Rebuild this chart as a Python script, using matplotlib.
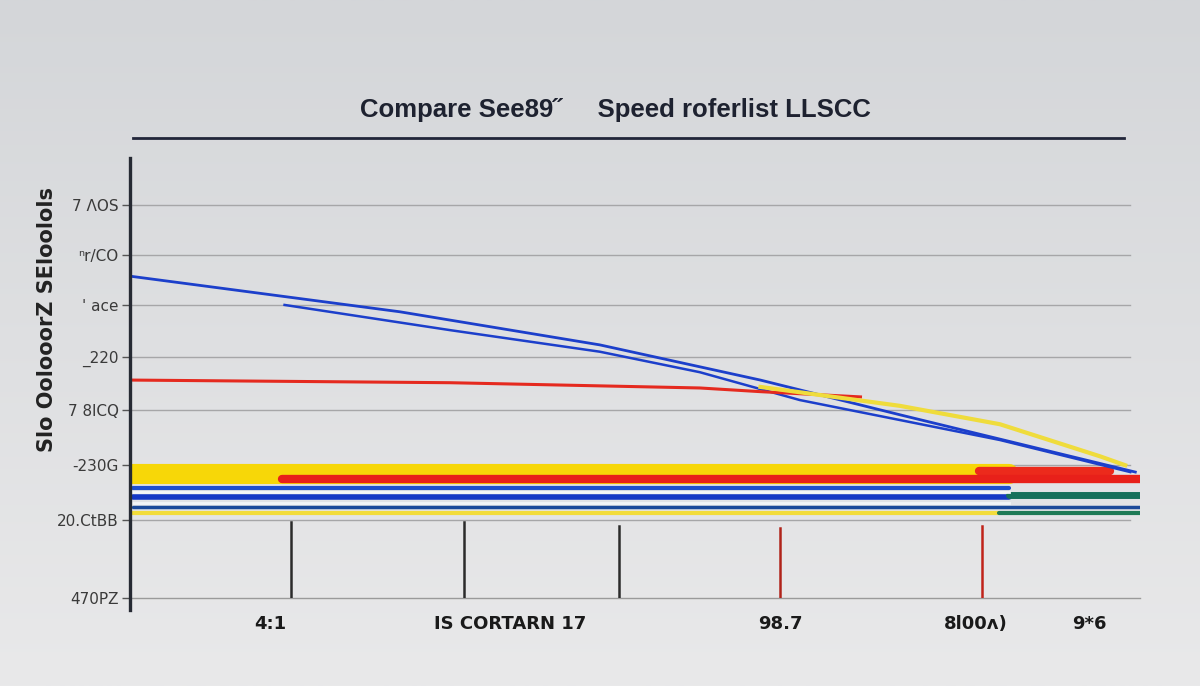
import numpy as np
import matplotlib
matplotlib.use("Agg")
import matplotlib.pyplot as plt
from matplotlib.lines import Line2D
from matplotlib.colors import LinearSegmentedColormap

# ---- data ----
title = "Compare See89˝     Speed roferlist LLSCC"
ylabel = "Slo OolooorZ SEloolols"
ytick_vals = [7.49, 6.53, 5.58, 4.59, 3.58, 2.53, 1.49, 0.0]
ytick_labels = ["7 ΛOS", "ⁿr/CO", "' ace", "_220", "7 8lCQ", "-230G", "20.CtBB", "470PZ"]
xtick_vals = [1.39, 3.76, 6.44, 8.37, 9.50]
xtick_labels = ["4:1", "IS CORTARN 17", "98.7", "8l00ʌ)", "9*6"]

# sloping series
blue1_x = [0.03, 2.67, 4.65, 6.24, 7.62, 9.95]
blue1_y = [6.12, 5.45, 4.82, 4.15, 3.49, 2.40]
blue2_x = [1.53, 3.17, 4.65, 5.64, 6.63, 8.61, 9.90]
blue2_y = [5.58, 5.10, 4.69, 4.30, 3.77, 3.01, 2.40]
red_x = [0.03, 3.17, 5.64, 6.24, 7.23]
red_y = [4.15, 4.10, 4.00, 3.93, 3.83]
yellow_x = [6.24, 7.62, 8.61, 9.60, 9.85]
yellow_y = [4.02, 3.66, 3.31, 2.70, 2.53]

# horizontal band series
band_x0 = [0.03, 8.40, 1.50, 0.03, 0.03, 8.70, 0.03, 0.03, 8.60]
band_x1 = [8.70, 9.70, 10.10, 8.70, 8.70, 10.05, 10.05, 8.60, 10.05]
band_y = [2.36, 2.42, 2.27, 2.09, 1.93, 1.97, 1.74, 1.63, 1.63]
band_c = ["#f7d708", "#ec2a1c", "#e8201a", "#1f4fcf", "#1538c6", "#17705a", "#1c4a9a", "#f2dc3a", "#1e7a55"]
band_w = [14.5, 6.0, 6.0, 3.0, 4.0, 5.0, 2.5, 3.0, 3.0]

# vertical stems
stem_x = [1.59, 3.31, 4.84, 6.43, 8.43]
stem_top = [1.45, 1.45, 1.38, 1.33, 1.38]
stem_c = ["#2b2b2b", "#2b2b2b", "#2b2b2b", "#b0231a", "#c0231a"]

# ---- figure ----
fig = plt.figure(figsize=(12, 6.86), dpi=100)
bg = fig.add_axes([0, 0, 1, 1], zorder=-10)
grad = np.linspace(0, 1, 256).reshape(-1, 1)
cm = LinearSegmentedColormap.from_list("bg", ["#d4d6d9", "#e9e9ea"])
bg.imshow(grad, aspect="auto", cmap=cm, extent=[0, 1, 0, 1], origin="upper")
bg.set_axis_off()

ax = fig.add_axes([0.1083, 0.128, 0.842, 0.642])
ax.set_facecolor("none")
ax.set_xlim(0, 10)
ax.set_ylim(0, 8.38)

for s in ["top", "right", "left"]:
    ax.spines[s].set_visible(False)
ax.spines["bottom"].set_color("#9a9a9a")
ax.spines["bottom"].set_linewidth(1.0)

# left spine drawn manually, extending below
ax.plot([0, 0], [-0.22, 8.38], color="#262a33", lw=2.4, clip_on=False, zorder=5)

# gridlines
for v in ytick_vals[:-1]:
    ax.plot([0, 9.9], [v, v], color="#a6a6a8", lw=1.0, zorder=1)

ax.set_yticks(ytick_vals)
ax.set_yticklabels(ytick_labels, fontsize=11, color="#3a3a3a")
ax.tick_params(axis="y", length=6, width=1, color="#555555", pad=2)
ax.set_xticks(xtick_vals)
ax.set_xticklabels(xtick_labels, fontsize=13, color="#1a1a1a", fontweight="bold",
                   family="DejaVu Sans Condensed")
ax.tick_params(axis="x", length=0, pad=12)

ax.set_ylabel(ylabel, fontsize=15, fontweight="bold", color="#222222")
ax.yaxis.set_label_coords(-0.072, 0.632)

# stems
for x, t, c in zip(stem_x, stem_top, stem_c):
    ax.plot([x, x], [0, t], color=c, lw=1.8, zorder=3)

# bands
for x0, x1, y, c, w in zip(band_x0, band_x1, band_y, band_c, band_w):
    ax.plot([x0, x1], [y, y], color=c, lw=w, solid_capstyle="round", zorder=3)
for y in [2.02, 1.82]:
    ax.plot([0.03, 8.7], [y, y], color="#f4f5f7", lw=2.0, zorder=3)

# sloping lines
ax.plot(blue1_x, blue1_y, color="#1c3fcb", lw=2.0, zorder=4)
ax.plot(blue2_x, blue2_y, color="#1c3fcb", lw=1.8, zorder=4)
ax.plot(red_x, red_y, color="#e52a1f", lw=2.2, zorder=4)
ax.plot(yellow_x, yellow_y, color="#efdc3c", lw=3.0, zorder=4)

# title and rule
fig.text(0.513, 0.84, title, ha="center", va="center", fontsize=18.5,
         color="#1e2230", family="Liberation Sans", fontweight="bold")
fig.add_artist(Line2D([0.111, 0.937], [0.799, 0.799], color="#22263a", lw=2.0))

fig.savefig("out.png", dpi=100)
